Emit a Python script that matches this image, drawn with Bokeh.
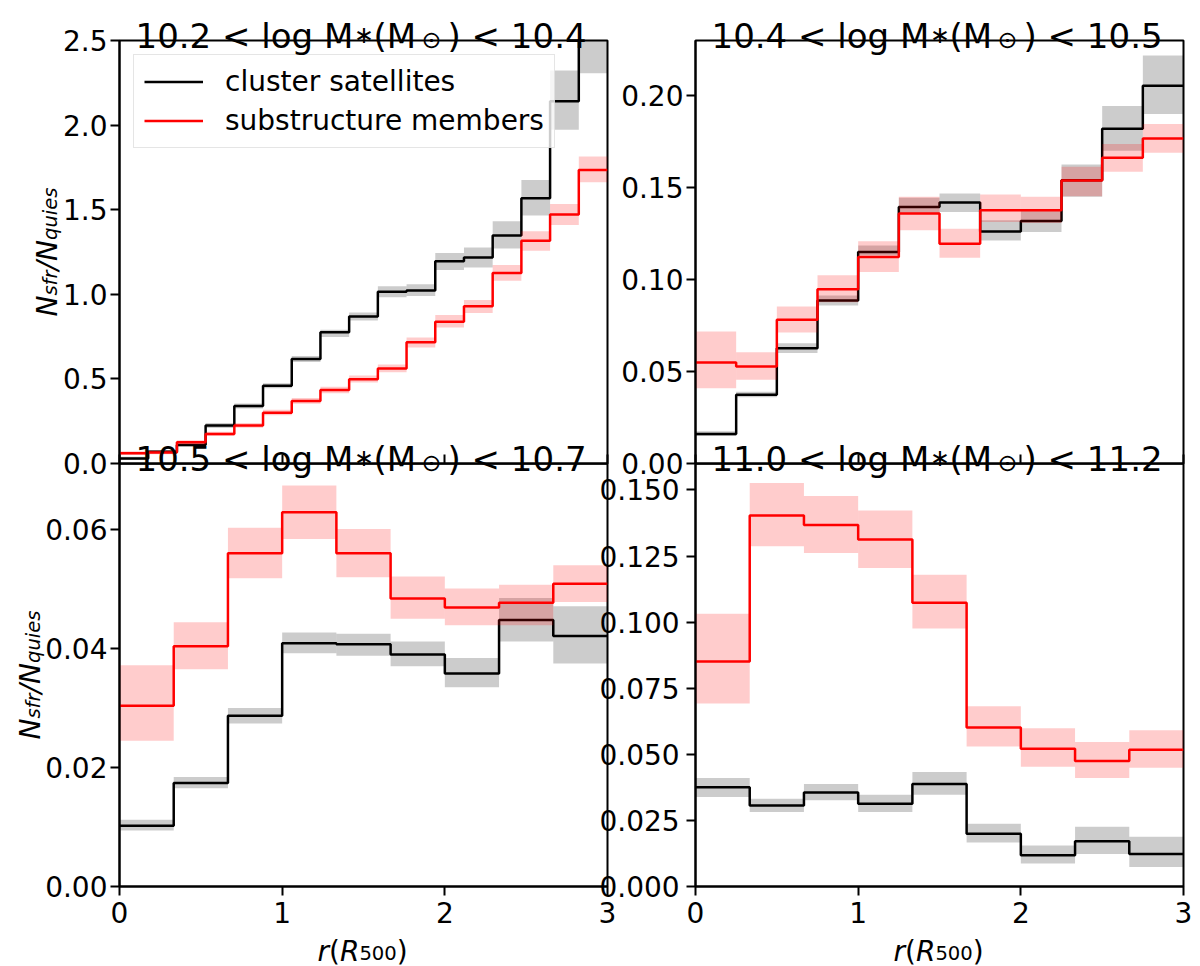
import numpy as np
from math import pi
from bokeh.plotting import figure
from bokeh.layouts import column, row
from bokeh.models import (Range1d, FixedTicker, PrintfTickFormatter, CustomJSTickFormatter,
                          LinearAxis, Label, Legend, LegendItem)
from bokeh.embed import file_html
from bokeh.resources import INLINE

FONT = "DejaVu Sans"

# bin edges in r / R500
edges_tl = np.linspace(0, 3, 18)
edges_tr = np.linspace(0, 3, 13)
edges_bot = np.linspace(0, 3, 10)

# 10.2 < log M < 10.4
tl_sat = [0.030, 0.070, 0.110, 0.225, 0.340, 0.460, 0.617, 0.775, 0.869, 1.015, 1.023, 1.195, 1.218, 1.347, 1.567, 2.141, 2.620]
tl_sat_lo = [0.020, 0.060, 0.100, 0.210, 0.325, 0.445, 0.600, 0.748, 0.845, 0.982, 0.990, 1.144, 1.159, 1.271, 1.465, 1.973, 2.306]
tl_sat_hi = [0.040, 0.080, 0.120, 0.240, 0.355, 0.475, 0.635, 0.790, 0.893, 1.047, 1.060, 1.244, 1.277, 1.431, 1.676, 2.322, 2.940]
tl_sub = [0.060, 0.065, 0.125, 0.174, 0.225, 0.300, 0.370, 0.434, 0.498, 0.562, 0.716, 0.838, 0.929, 1.126, 1.317, 1.471, 1.735]
tl_sub_lo = [0.050, 0.055, 0.113, 0.162, 0.211, 0.285, 0.353, 0.415, 0.478, 0.540, 0.686, 0.804, 0.889, 1.080, 1.258, 1.410, 1.662]
tl_sub_hi = [0.072, 0.077, 0.137, 0.188, 0.240, 0.317, 0.387, 0.453, 0.520, 0.585, 0.745, 0.878, 0.966, 1.173, 1.372, 1.534, 1.814]

# 10.4 < log M < 10.5
tr_sat = [0.0160, 0.0374, 0.0627, 0.0886, 0.1150, 0.1395, 0.1419, 0.1262, 0.1319, 0.1540, 0.1820, 0.2054]
tr_sat_lo = [0.0150, 0.0360, 0.0601, 0.0859, 0.1132, 0.1360, 0.1368, 0.1213, 0.1259, 0.1450, 0.1700, 0.1900]
tr_sat_hi = [0.0175, 0.0390, 0.0654, 0.0914, 0.1186, 0.1445, 0.1468, 0.1322, 0.1373, 0.1626, 0.1944, 0.2218]
tr_sub = [0.0549, 0.0527, 0.0781, 0.0948, 0.1123, 0.1359, 0.1195, 0.1377, 0.1377, 0.1539, 0.1662, 0.1767]
tr_sub_lo = [0.0409, 0.0456, 0.0712, 0.0877, 0.1041, 0.1268, 0.1119, 0.1313, 0.1308, 0.1453, 0.1586, 0.1689]
tr_sub_hi = [0.0718, 0.0605, 0.0854, 0.1023, 0.1208, 0.1450, 0.1277, 0.1462, 0.1450, 0.1613, 0.1737, 0.1846]

# 10.5 < log M < 10.7
bl_sat = [0.0102, 0.0174, 0.0287, 0.0409, 0.0407, 0.0390, 0.0358, 0.0448, 0.0421]
bl_sat_lo = [0.0094, 0.0165, 0.0274, 0.0392, 0.0388, 0.0370, 0.0335, 0.0412, 0.0375]
bl_sat_hi = [0.0112, 0.0184, 0.0300, 0.0427, 0.0425, 0.0412, 0.0384, 0.0485, 0.0471]
bl_sub = [0.0304, 0.0404, 0.0560, 0.0629, 0.0560, 0.0484, 0.0469, 0.0477, 0.0509]
bl_sub_lo = [0.0245, 0.0365, 0.0518, 0.0584, 0.0520, 0.0450, 0.0439, 0.0439, 0.0478]
bl_sub_hi = [0.0372, 0.0444, 0.0603, 0.0674, 0.0601, 0.0521, 0.0501, 0.0507, 0.0540]

# 11.0 < log M < 11.2
br_sat = [0.0375, 0.0306, 0.0356, 0.0313, 0.0388, 0.0200, 0.0118, 0.0171, 0.0123]
br_sat_lo = [0.0339, 0.0282, 0.0326, 0.0282, 0.0347, 0.0166, 0.0087, 0.0123, 0.0074]
br_sat_hi = [0.0410, 0.0332, 0.0388, 0.0347, 0.0433, 0.0237, 0.0155, 0.0226, 0.0188]
br_sub = [0.0851, 0.1403, 0.1367, 0.1313, 0.1073, 0.0601, 0.0521, 0.0475, 0.0517]
br_sub_lo = [0.0692, 0.1287, 0.1261, 0.1205, 0.0976, 0.0530, 0.0453, 0.0410, 0.0449]
br_sub_hi = [0.1032, 0.1526, 0.1477, 0.1422, 0.1179, 0.0682, 0.0599, 0.0547, 0.0591]

tl_ticks = [0.0, 0.5, 1.0, 1.5, 2.0, 2.5]
tr_ticks = [0.0, 0.05, 0.10, 0.15, 0.20]
bl_ticks = [0.0, 0.02, 0.04, 0.06]
br_ticks = [0.0, 0.025, 0.05, 0.075, 0.10, 0.125, 0.15]
x_ticks = [0, 1, 2, 3]

titles = [("10.2", "10.4"), ("10.4", "10.5"), ("10.5", "10.7"), ("11.0", "11.2")]


def panel(edges, sat, sat_lo, sat_hi, sub, sub_lo, sub_hi, ytop, borders):
    p = figure(frame_width=488, frame_height=423, x_range=Range1d(0, 3), y_range=Range1d(0, ytop),
               output_backend="svg", toolbar_location=None, min_border=0)
    p.min_border_left, p.min_border_right, p.min_border_top, p.min_border_bottom = borders
    p.grid.grid_line_color = None
    p.outline_line_color = "black"
    p.outline_line_width = 2
    p.border_fill_alpha = 0
    p.background_fill_alpha = 0

    p.quad(left=edges[:-1], right=edges[1:], bottom=sat_lo, top=sat_hi,
           fill_color="black", fill_alpha=0.2, line_color=None)
    r_sat = p.step(x=edges, y=sat + [sat[-1]], mode="after", line_color="black", line_width=2.5)
    p.quad(left=edges[:-1], right=edges[1:], bottom=sub_lo, top=sub_hi,
           fill_color="red", fill_alpha=0.2, line_color=None)
    r_sub = p.step(x=edges, y=sub + [sub[-1]], mode="after", line_color="red", line_width=2.5)

    for ax in p.xaxis + p.yaxis:
        ax.axis_line_width = 2
        ax.major_tick_line_width = 2
        ax.minor_tick_line_color = None
        ax.major_label_text_font = FONT
        ax.major_label_text_font_size = "28px"
        ax.major_label_text_color = "black"
        ax.major_tick_in = 0
        ax.major_tick_out = 9
        ax.major_label_standoff = 3
    p.xaxis.major_label_standoff = 6
    p.xaxis.ticker = FixedTicker(ticks=x_ticks)
    p.xaxis.formatter = PrintfTickFormatter(format="%d")
    return p, r_sat, r_sub


tl, tl_r1, tl_r2 = panel(edges_tl, tl_sat, tl_sat_lo, tl_sat_hi, tl_sub, tl_sub_lo, tl_sub_hi, 2.5, (119, 2, 40, 20))
tr, _, _ = panel(edges_tr, tr_sat, tr_sat_lo, tr_sat_hi, tr_sub, tr_sub_lo, tr_sub_hi, 0.23, (86, 17, 40, 20))
bl, _, _ = panel(edges_bot, bl_sat, bl_sat_lo, bl_sat_hi, bl_sub, bl_sub_lo, bl_sub_hi, 0.0711, (119, 79, 0, 80))
br, _, _ = panel(edges_bot, br_sat, br_sat_lo, br_sat_hi, br_sub, br_sub_lo, br_sub_hi, 0.160, (9, 17, 0, 80))

tl.yaxis.ticker = FixedTicker(ticks=tl_ticks)
tl.yaxis.formatter = PrintfTickFormatter(format="%.1f")
tr.yaxis.ticker = FixedTicker(ticks=tr_ticks)
tr.yaxis.formatter = PrintfTickFormatter(format="%.2f")
bl.yaxis.ticker = FixedTicker(ticks=bl_ticks)
bl.yaxis.formatter = PrintfTickFormatter(format="%.2f")
br.yaxis.ticker = FixedTicker(ticks=br_ticks)

# top row: x ticks point into the panel, no tick labels
for p in (tl, tr):
    p.xaxis.major_tick_in = 9
    p.xaxis.major_tick_out = 0
    p.xaxis.major_label_standoff = 0
    p.xaxis.major_label_text_font_size = "0px"
    p.xaxis.formatter = CustomJSTickFormatter(code="return ''")

# bottom-right tick labels come from the left panel so they can reach over the gap
br.yaxis.major_label_standoff = 0
br.yaxis.formatter = CustomJSTickFormatter(code="return ''")
bl.extra_y_ranges = {"br": Range1d(0, 0.160)}
br_labels = LinearAxis(y_range_name="br", ticker=FixedTicker(ticks=br_ticks),
                       formatter=PrintfTickFormatter(format="%.3f"),
                       major_tick_in=0, major_tick_out=0, minor_tick_in=0, minor_tick_out=0,
                       axis_line_color=None, major_label_standoff=-8,
                       major_label_text_font=FONT, major_label_text_font_size="28px",
                       major_label_text_color="black")
bl.add_layout(br_labels, "right")

legend = Legend(items=[LegendItem(label="cluster satellites", renderers=[tl_r1]),
                       LegendItem(label="substructure members", renderers=[tl_r2])],
                location="top_left", margin=14, padding=10, spacing=6,
                label_text_font=FONT, label_text_font_size="28px", label_text_color="black",
                label_standoff=22, glyph_width=59, glyph_height=33, label_height=33,
                border_line_color="#cccccc", border_line_width=1, background_fill_alpha=0.8)
tl.add_layout(legend)

# transparent sheet over the whole grid for titles and axis labels (page pixels, y down)
W, H = 1200, 966
sheet = figure(width=W, height=H, x_range=Range1d(0, W), y_range=Range1d(H, 0),
               x_axis_type=None, y_axis_type=None, min_border=0, outline_line_color=None,
               background_fill_alpha=0, border_fill_alpha=0,
               output_backend="svg", toolbar_location=None)


def put(text, x, y, size, align="left", style="normal", angle=0):
    sheet.add_layout(Label(x=x, y=y, text=text, text_font=FONT, text_font_size=f"{size}px",
                           text_font_style=style, text_align=align, text_baseline="alphabetic",
                           text_color="black", angle=angle))


centres = [(363, 35), (939, 35), (363, 458), (939, 458)]
for (lo, hi), (cx, base) in zip(titles, centres):
    put(f"{lo} < log M", cx - 228, base, 34)
    put("\u2217", cx + 0.5, base - 1, 23.8, align="center")
    put("(M", cx + 10, base, 34)
    put("\u2299", cx + 68, base + 4, 23.8, align="center")
    put(f") < {hi}", cx + 84, base, 34)

for bx, cy in [(47, 251.5), (29.5, 674.5)]:
    start = cy + 64.5
    put("N", bx, start, 28, style="italic", angle=pi / 2)
    put("sfr", bx + 3, start - 20.9, 19.6, style="italic", angle=pi / 2)
    put("/N", bx, start - 46.1, 28, style="italic", angle=pi / 2)
    put("quies", bx + 3, start - 76.5, 19.6, style="italic", angle=pi / 2)

for cx in (363, 939):
    put("r", cx - 46, 950.5, 28, style="italic")
    put("(", cx - 34.5, 950.5, 28)
    put("R", cx - 23.6, 950.5, 28, style="italic")
    put("500", cx - 4.1, 952.5, 19.6)
    put(")", cx + 33.3, 950.5, 28)

sheet.margin = (-H, 0, 0, 0)
layout = column(row(tl, tr), row(bl, br, margin=(-20, 0, 0, 0)), sheet)
open("out.html", "w").write(file_html(layout, INLINE))
